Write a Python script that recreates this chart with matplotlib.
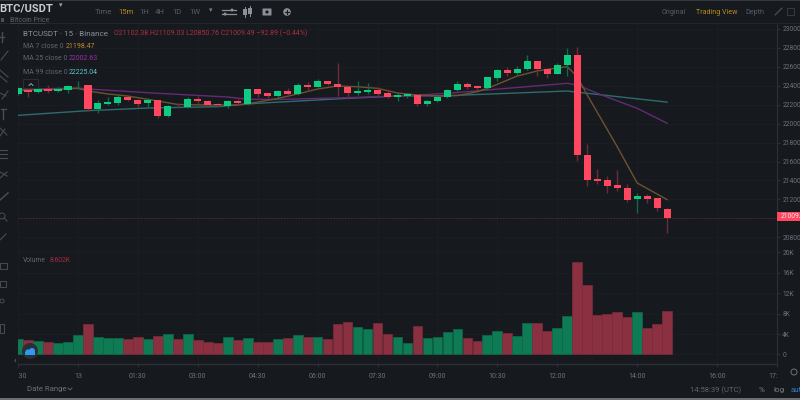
import matplotlib
matplotlib.use("Agg")
import matplotlib.pyplot as plt
from matplotlib.patches import Rectangle, FancyBboxPatch, Circle
from matplotlib.transforms import Bbox

plt.rcParams['font.family'] = ['Roboto', 'DejaVu Sans']

# ---------- data ----------
bar_index = list(range(-6, 60))
opens = [22311,22353,22329,22363,22342,22353,22392,22402,22150,22208,22216,22276,22250,22213,22244,22079,22177,22170,22261,22237,
         22205,22184,22237,22205,22360,22318,22289,22345,22311,22408,22387,22444,22419,22384,22321,22335,22353,22321,22276,22293,
         22303,22205,22234,22276,22350,22419,22392,22374,22479,22563,22532,22571,22655,22577,22524,22613,22718,21668,21413,21405,
         21350,21321,21202,21240,21213,21102.38]
closes = [22374,22329,22363,22342,22363,22398,22398,22150,22216,22223,22276,22247,22208,22244,22076,22184,22170,22261,22237,22195,
          22192,22237,22216,22360,22314,22293,22345,22314,22408,22387,22444,22416,22381,22321,22345,22353,22314,22276,22297,22311,
          22205,22240,22279,22356,22419,22384,22370,22486,22563,22532,22574,22655,22571,22524,22613,22718,21668,21405,21398,21342,
          21321,21198,21240,21208,21107,21009.49]
highs = [22380,22374,22374,22405,22387,22408,22450,22405,22247,22276,22300,22282,22258,22265,22247,22192,22219,22282,22289,22244,
         22219,22247,22258,22366,22363,22321,22353,22374,22423,22437,22465,22450,22634,22387,22447,22426,22387,22360,22318,22324,
         22311,22247,22282,22363,22444,22440,22402,22490,22571,22598,22605,22721,22658,22581,22640,22792,22802,21784,21524,21451,
         21511,21360,21272,21258,21216,21109.03]
lows = [22305,22282,22318,22324,22332,22321,22360,22132,22114,22195,22192,22234,22170,22170,22061,22072,22160,22160,22219,22184,
        22177,22163,22192,22198,22282,22265,22261,22282,22303,22345,22381,22402,22289,22255,22303,22311,22276,22265,22240,22272,
        22187,22187,22226,22268,22342,22366,22356,22353,22444,22503,22514,22563,22500,22482,22518,22500,21608,21345,21360,21268,
        21293,21177,21061,21166,21079,20850.76]
volumes_k = [3.1,2.8,2.7,2.4,2.3,2.5,3.8,6.0,3.5,3.3,3.25,3.1,3.4,3.1,3.7,4.1,3.05,4.0,2.8,2.5,
             2.3,3.4,2.8,3.2,2.35,2.5,3.0,3.3,3.8,3.4,3.45,3.0,6.0,6.3,5.3,4.9,6.2,4.1,3.5,2.3,
             5.6,3.2,3.4,4.4,4.9,3.3,2.6,3.8,4.5,4.2,3.7,6.1,6.25,4.5,5.1,7.55,18.0,13.5,7.7,7.9,
             8.4,7.4,8.4,5.15,6.0,8.602]

ma7_index = [-6,-2,0,1,3,5,8,10,13,16,18,20,22,24,26,28,30,32,34,36,38,40,41,44,46,48,49,50,51,54,56,59]
ma7_value = [22350,22360,22370,22342,22311,22289,22237,22200,22195,22195,22226,22263,22311,22363,22395,22387,22370,22321,22300,
             22289,22294,22335,22370,22500,22553,22585,22598,22493,22300,21756,21374,21198.47]
ma25_index = [-6,0,1,8,15,17,20,27,33,37,49,50,52,56,59]
ma25_value = [22358,22374,22363,22318,22279,22255,22253,22272,22293,22318,22423,22405,22318,22160,22002.63]
ma99_index = [-6,1,7,14,18,27,32,37,49,51,59]
ma99_value = [22086,22135,22163,22177,22213,22265,22289,22293,22342,22318,22225.04]

last_price = 21009.49
price_ticks = [20800,21000,21200,21400,21600,21800,22000,22200,22400,22600,22800,23000]
price_tick_labels = ['20800.00','','21200.00','21400.00','21600.00','21800.00','22000.00','22200.00','22400.00','22600.00','22800.00','23000.00']
vol_ticks = [0,4,8,12,16,20]
vol_tick_labels = ['0','4K','8K','12K','16K','20K']
time_ticks = [-6,0,6,12,18,24,30,36,42,48,56,64,70]
time_labels = ['22:30','13','01:30','03:00','04:30','06:00','07:30','09:00','10:30','12:00','14:00','16:00','17:30']

# ---------- styles ----------
BG = '#161A1E'; GRID = '#1B1F24'; LINE = '#2B2F36'; DIM = '#6A717C'
UP = '#0ECB81'; DOWN = '#FF4760'
UP_W = '#0D6B4C'; DOWN_W = '#6E2A3A'
UP_V = '#0F7B55'; DOWN_V = '#8A3040'

W, H = 800, 400
fig = plt.figure(figsize=(8, 4), dpi=100, facecolor=BG)

def axes_px(l, t, r, b, **kw):
    return fig.add_axes([l / W, 1 - b / H, (r - l) / W, (b - t) / H], facecolor=BG, **kw)

L, R, T, MID, BOT = 18, 777, 23, 250.7, 363.7
ax = axes_px(L, T, R, MID)
axv = axes_px(L, MID, R, BOT)

xlim = (-5.85, 69.79)
for a in (ax, axv):
    a.set_xlim(*xlim)
    a.set_xticks(time_ticks)
    a.grid(True, axis='both', color=GRID, lw=0.7)
    a.set_axisbelow(True)
    a.yaxis.tick_right()
    for s in a.spines.values():
        s.set_visible(False)
    a.spines['right'].set_visible(True)
    a.spines['right'].set_color(LINE)
    a.spines['bottom'].set_visible(True)
    a.spines['bottom'].set_color(LINE)
    a.spines['bottom'].set_linewidth(1.0)

ax.set_ylim(20661, 23058)
ax.set_yticks(price_ticks)
ax.set_yticklabels(price_tick_labels)
ax.tick_params(axis='x', length=0, labelbottom=False)
ax.tick_params(axis='y', length=2, color=LINE, labelcolor=DIM, labelsize=4.9, pad=1.8)

# moving averages sit behind the candle bodies
ax.plot(ma99_index, ma99_value, color='#2F6B6E', lw=1.0, zorder=2)
ax.plot(ma25_index, ma25_value, color='#642A74', lw=1.0, zorder=2)
ax.plot(ma7_index, ma7_value, color='#6E5230', lw=1.0, zorder=2)

ax.axhline(last_price, color='#5A2530', lw=0.7, ls=(0, (1.5, 1.5)), zorder=1)

for i, o, h, l, c in zip(bar_index, opens, highs, lows, closes):
    up = c >= o
    ax.vlines(i, l, h, color=UP_W if up else DOWN_W, lw=1.0, zorder=3)
    ax.bar(i, abs(c - o), bottom=min(o, c), width=0.72, color=UP if up else DOWN, lw=0, zorder=4)

vol_colors = [UP_V if c >= o else DOWN_V for o, c in zip(opens, closes)]
vol_edges = ['#0D6B4A' if c >= o else '#7A2C3A' for o, c in zip(opens, closes)]
axv.bar(bar_index, volumes_k, width=0.98, color=vol_colors, edgecolor=vol_edges, lw=0.5, zorder=3)
axv.set_ylim(-1.8, 20.3)
axv.set_yticks(vol_ticks)
axv.set_yticklabels(vol_tick_labels)
axv.tick_params(axis='y', length=2, color=LINE, labelcolor=DIM, labelsize=4.9, pad=1.8)
axv.set_xticklabels(time_labels)
axv.tick_params(axis='x', length=2, color=LINE, labelcolor=DIM, labelsize=5, pad=4.5)
clip = Bbox([[L, 0], [R, H]])
for lab in axv.get_xticklabels():
    lab.set_clip_box(clip)
    lab.set_clip_on(True)

# ---------- overlay in pixel space (page furniture) ----------
ov = fig.add_axes([0, 0, 1, 1], zorder=10)
ov.set_xlim(0, W); ov.set_ylim(H, 0); ov.axis('off'); ov.patch.set_alpha(0)

def t(x, y, s, color=DIM, size=6, ha='left', **kw):
    ov.text(x, y, s, color=color, fontsize=size, ha=ha, va='center', **kw)

# frame lines
ov.add_patch(Rectangle((0, 0), W, 1, color='#34383E', lw=0))
ov.add_patch(Rectangle((0, 398), W, 2, color='#6B6F74', lw=0))
ov.plot([0, W], [T, T], color='#22262B', lw=0.8)

# header
t(-1, 8, 'BTC/USDT', color='#C9CDD3', size=8, fontweight='bold')
t(59, 6, '▾', color='#A0A5AC', size=5)
t(10, 20, 'Bitcoin Price', color='#5C636E', size=5.0)
ov.plot([10, 45], [23.2, 23.2], color='#4A505A', lw=0.4)
ov.add_patch(Rectangle((1, 18), 3, 4, color='#4A505A', lw=0))
for x, s, c in [(95, 'Time', '#565C66'), (118, '15m', '#B8871F'), (139, '1H', '#565C66'), (155, '4H', '#565C66'),
                (172, '1D', '#565C66'), (189, '1W', '#565C66')]:
    t(x, 12, s, color=c, size=5.6)
t(209, 11, '▾', color='#7A808A', size=5)
# toolbar icons
for y, xk in [(10, 232), (14, 225)]:
    ov.plot([222, 236], [y, y], color='#8A9099', lw=0.9)
    ov.add_patch(Circle((xk, y), 1.5, color='#8A9099', lw=0))
for x, y0, y1 in [(245, 9, 15), (250, 8, 14)]:
    ov.add_patch(Rectangle((x - 1.7, y0), 3.4, y1 - y0, color='#8A9099', lw=0))
    ov.plot([x, x], [y0 - 2, y1 + 2], color='#8A9099', lw=0.7)
ov.add_patch(FancyBboxPatch((263, 9), 8, 6, boxstyle='round,pad=0.5', color='#8A9099', lw=0))
ov.add_patch(Circle((267, 12), 1.6, color=BG, lw=0))
ov.add_patch(Circle((287, 12), 3.8, color='#8A9099', lw=0))
ov.plot([285, 289], [12, 12], color=BG, lw=0.8)
ov.plot([287, 287], [10, 14], color=BG, lw=0.8)
t(662, 12, 'Original', color='#565C66', size=5.1)
t(696, 12, 'Trading View', color='#B8871F', size=5.1)
t(745, 12, 'Depth', color='#565C66', size=5.1)
ov.plot([775, 782], [15, 8], color='#565C66', lw=0.7)
ov.add_patch(Rectangle((787, 8), 7, 7, fill=False, ec='#3C4149', lw=0.6))

# chart legend
t(23, 33.5, 'BTCUSDT · 15 · Binance', color='#8A9099', size=5.9)
t(114, 33.5, 'O21102.38 H21109.03 L20850.76 C21009.49 −92.89 (−0.44%)', color='#B02C42', size=5.05)
t(23, 46, 'MA 7 close 0', color='#5F6670', size=5.0)
t(66, 46, '21198.47', color='#C08A30', size=5.0)
t(23, 59, 'MA 25 close 0', color='#5F6670', size=5.0)
t(69, 59, '22002.63', color='#9A2BA8', size=5.0)
t(23, 72, 'MA 99 close 0', color='#5F6670', size=5.0)
t(69, 72, '22225.04', color='#5FC4C8', size=5.0)
ov.add_patch(FancyBboxPatch((24, 80), 14, 8, boxstyle='round,pad=0.5', fc=BG, ec='#30343A', lw=0.6))
ov.plot([29, 31, 33], [85.5, 83.5, 85.5], color='#9AA0A8', lw=0.7)
t(23, 260, 'Volume', color='#5F6670', size=4.9)
t(50, 260, '8.602K', color='#A82A40', size=4.9)

# last price tag
ov.add_patch(Rectangle((777, 212), 23, 9, color=DOWN, lw=0))
t(781, 216.5, '21009.49', color='#F4E4E6', size=4.9)

# floating button and scroll mark
ov.add_patch(Circle((30, 351), 8, color='#2A2F36', lw=0))
ov.add_patch(Circle((28, 352), 2.6, color='#2E9BF0', lw=0))
ov.add_patch(Circle((32, 351), 3.0, color='#2E9BF0', lw=0))
ov.add_patch(Rectangle((25, 352), 10, 2.5, color='#2E9BF0', lw=0))
t(14, 361, '‹', color='#7A808A', size=6)

# bottom bar
t(27, 389.5, 'Date Range', color='#6A717C', size=5.6)
ov.plot([68, 70, 72], [388, 390, 388], color='#6A717C', lw=0.6)
t(690, 390, '14:58:39 (UTC)', color='#5F6670', size=5.5)
t(759, 390, '%', color='#7A808A', size=5.8)
t(773, 390, 'log', color='#7A808A', size=5.8)
t(791, 390, 'auto', color='#2E7FD0', size=5.8)
ov.add_patch(Circle((794, 372), 3, fill=False, ec='#6A717C', lw=0.7))

# left drawing toolbar, cut by the picture edge
IC = '#484D55'
def seg(xs, ys, lw=0.8):
    ov.plot(xs, ys, color=IC, lw=lw)
seg([2, 2], [32, 42], 1.0); seg([0, 4], [37, 37], 1.0)
seg([1, 8], [60, 51])
seg([0, 8], [70, 77]); seg([0, 7], [76, 82])
seg([0, 6], [93, 96]); seg([2, 8], [99, 91])
seg([1, 6], [109, 109], 1.0); seg([3, 3], [109, 119], 1.0)
seg([0, 7], [128, 135]); seg([0, 5], [136, 129])
seg([0, 7], [150, 150]); seg([0, 7], [154, 154]); seg([0, 7], [158, 158])
seg([0, 7], [172, 176]); seg([0, 7], [178, 172])
seg([0, 8], [200, 193], 1.1)
ov.add_patch(Circle((2, 216), 3, fill=False, ec=IC, lw=0.7)); seg([4, 7], [218, 221])
seg([0, 6], [240, 234])
ov.add_patch(Rectangle((0, 263), 7, 6, fill=False, ec=IC, lw=0.7))
ov.add_patch(Rectangle((0, 281), 6, 6, fill=False, ec=IC, lw=0.7))
ov.add_patch(Circle((2, 301), 2, fill=False, ec=IC, lw=0.7))
ov.add_patch(Rectangle((0, 324), 4, 9, fill=False, ec=IC, lw=0.7))

fig.savefig('out.png', dpi=100, facecolor=BG)
